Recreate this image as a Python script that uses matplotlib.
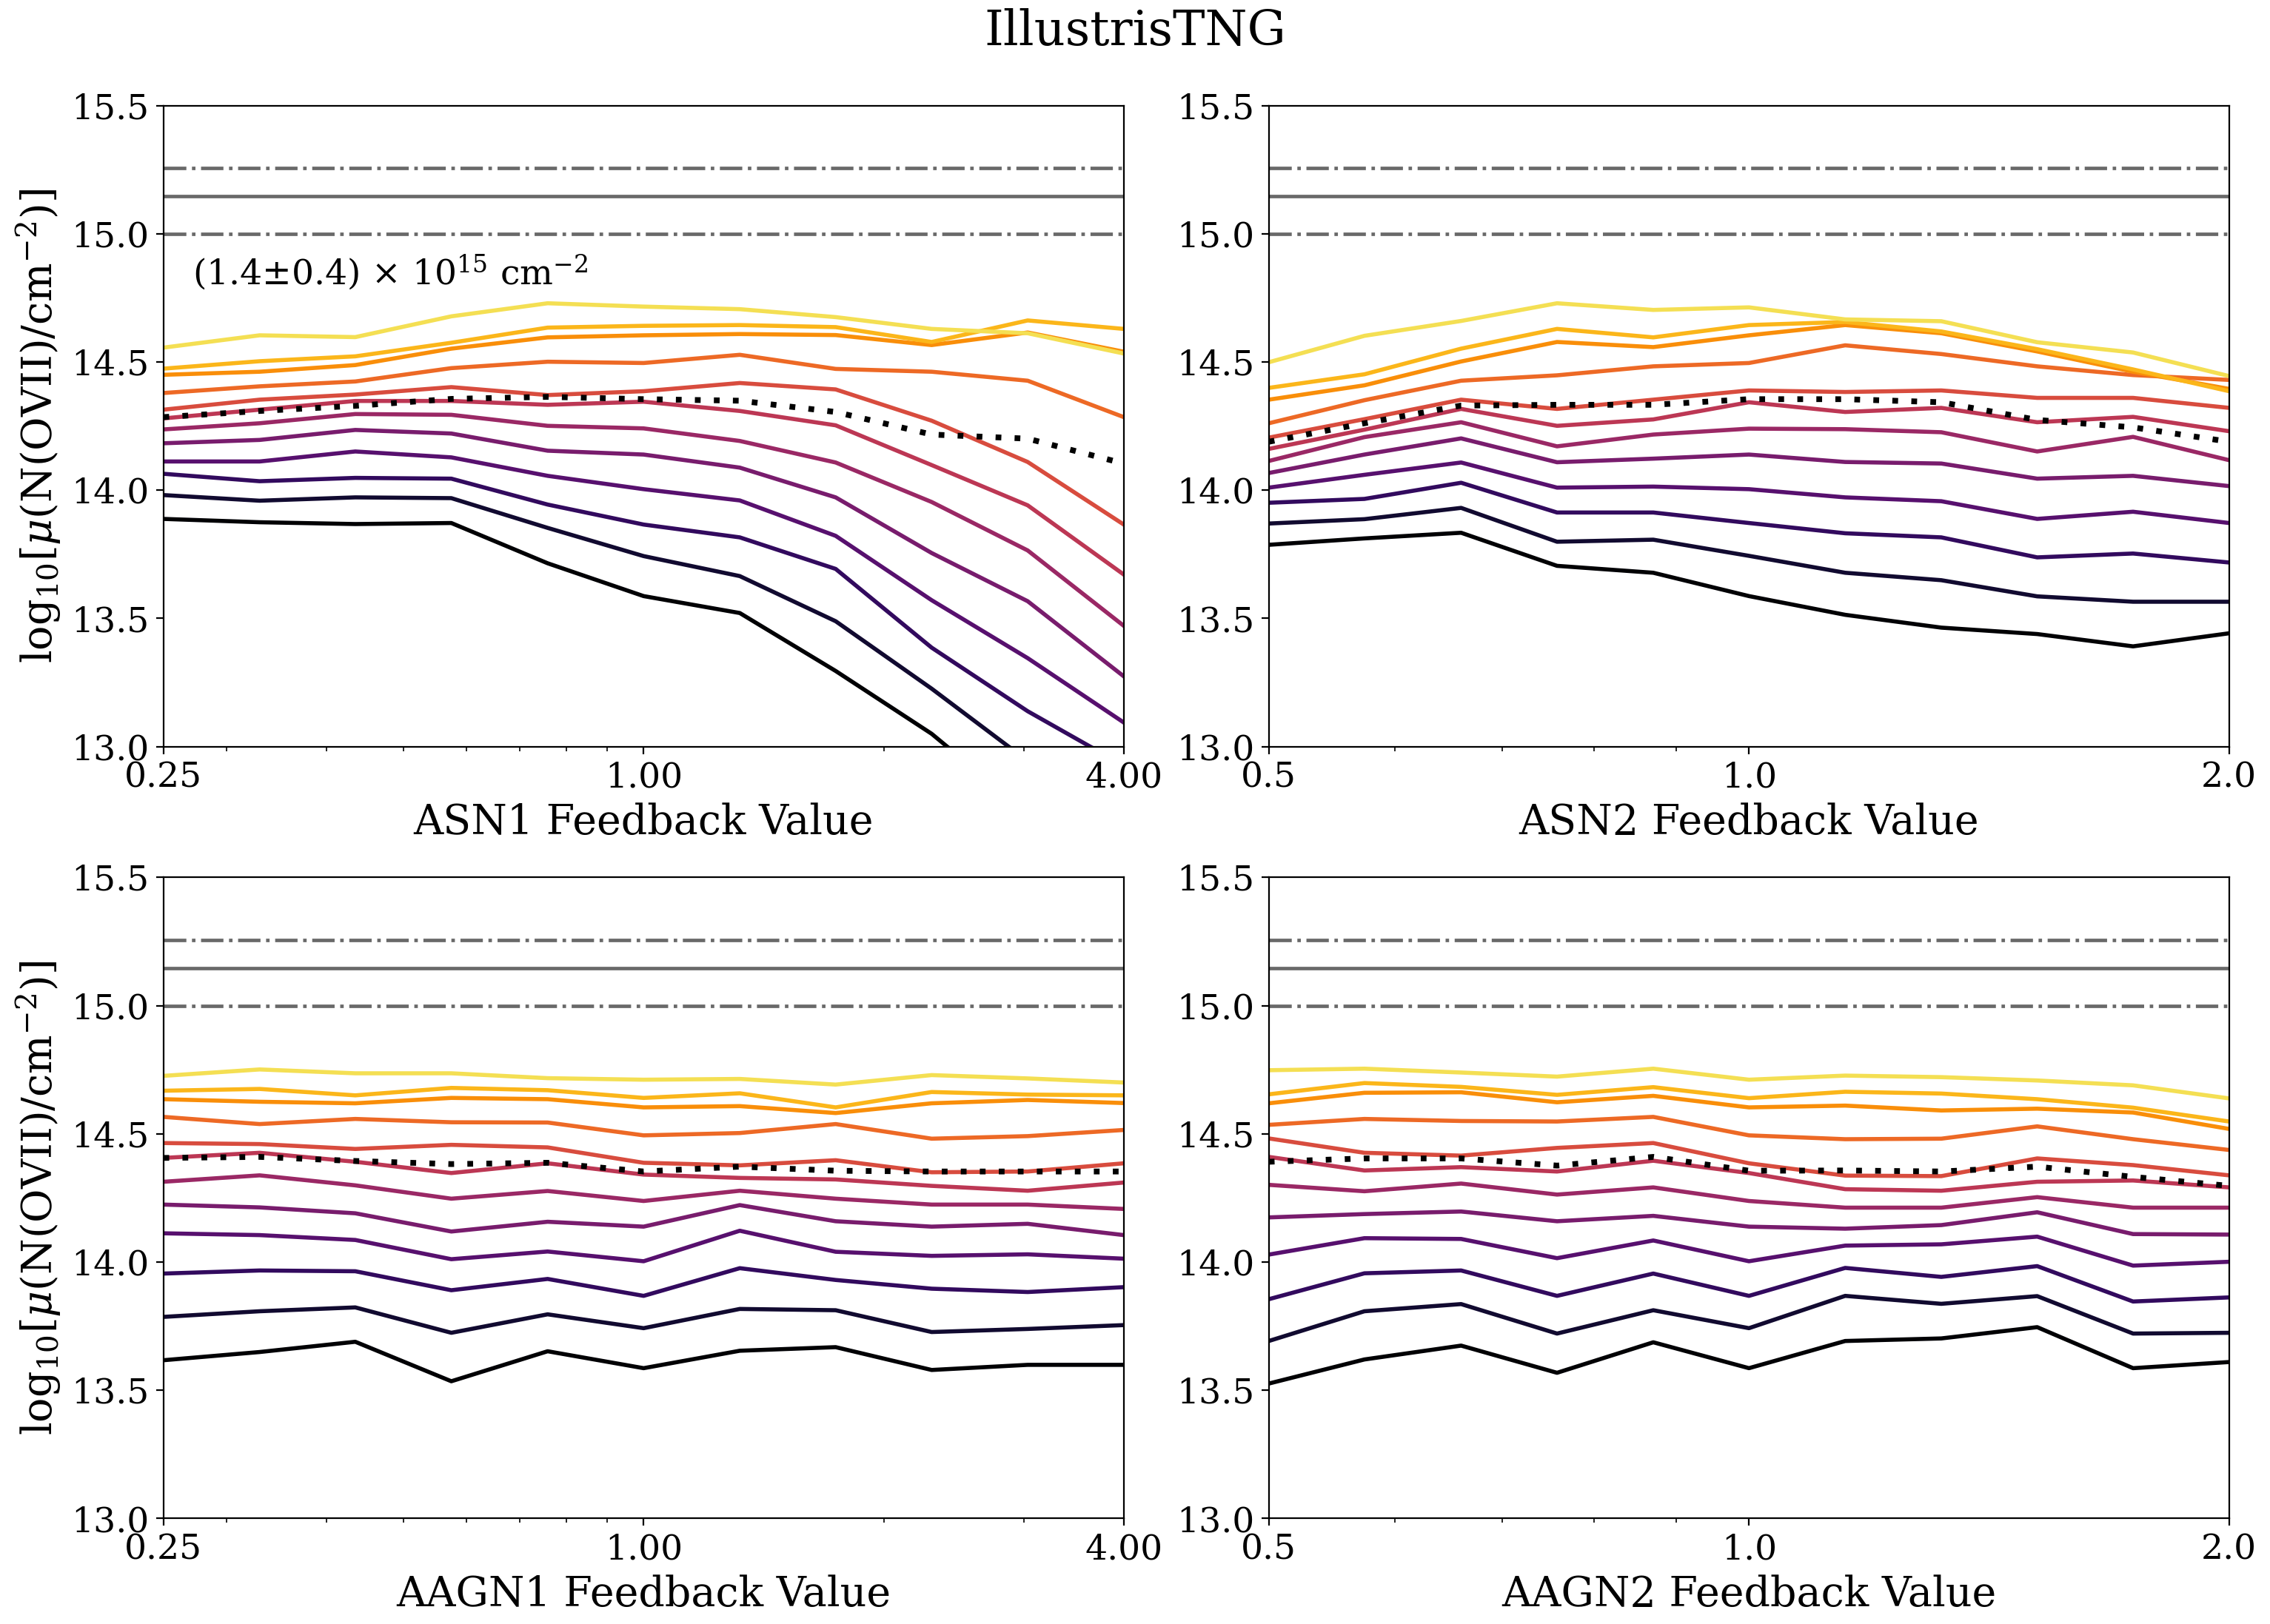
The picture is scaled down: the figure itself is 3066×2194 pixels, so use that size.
import numpy as np
import matplotlib
matplotlib.use('Agg')
import matplotlib.pyplot as plt
from matplotlib.ticker import NullFormatter

plt.rcParams['font.family'] = ['DejaVu Serif']
plt.rcParams['mathtext.fontset'] = 'dejavuserif'

# feedback parameter grids
x_sn1 = [0.25, 0.330, 0.435, 0.574, 0.758, 1.0, 1.320, 1.741, 2.297, 3.031, 4.0]
x_sn2 = [0.5, 0.574, 0.660, 0.758, 0.871, 1.0, 1.149, 1.320, 1.516, 1.741, 2.0]

# percentile curves, lowest (black) to highest (yellow)
asn1 = [
    [13.888, 13.875, 13.868, 13.872, 13.715, 13.587, 13.521, 13.295, 13.050, 12.740, 12.450],
    [13.981, 13.959, 13.972, 13.969, 13.853, 13.743, 13.665, 13.489, 13.226, 12.944, 12.650],
    [14.064, 14.035, 14.048, 14.045, 13.944, 13.866, 13.816, 13.693, 13.386, 13.138, 12.926],
    [14.112, 14.112, 14.151, 14.128, 14.056, 14.004, 13.960, 13.822, 13.571, 13.345, 13.094],
    [14.183, 14.196, 14.235, 14.221, 14.154, 14.139, 14.088, 13.972, 13.755, 13.567, 13.274],
    [14.237, 14.261, 14.297, 14.294, 14.251, 14.241, 14.192, 14.108, 13.954, 13.765, 13.471],
    [14.280, 14.314, 14.348, 14.348, 14.333, 14.345, 14.309, 14.253, 14.098, 13.941, 13.671],
    [14.314, 14.353, 14.373, 14.402, 14.371, 14.386, 14.418, 14.393, 14.271, 14.110, 13.866],
    [14.379, 14.405, 14.424, 14.476, 14.501, 14.496, 14.528, 14.473, 14.462, 14.427, 14.285],
    [14.450, 14.462, 14.488, 14.552, 14.596, 14.604, 14.609, 14.605, 14.566, 14.615, 14.540],
    [14.474, 14.503, 14.522, 14.575, 14.634, 14.641, 14.644, 14.636, 14.578, 14.662, 14.629],
    [14.556, 14.604, 14.597, 14.678, 14.729, 14.716, 14.706, 14.675, 14.629, 14.612, 14.533],
]
asn1_mean = [14.285, 14.309, 14.329, 14.356, 14.364, 14.355, 14.349, 14.305, 14.217, 14.201, 14.104]

asn2 = [
    [13.787, 13.812, 13.834, 13.705, 13.678, 13.587, 13.514, 13.464, 13.439, 13.391, 13.442],
    [13.870, 13.887, 13.931, 13.799, 13.807, 13.744, 13.678, 13.649, 13.586, 13.565, 13.565],
    [13.951, 13.966, 14.029, 13.913, 13.913, 13.872, 13.832, 13.816, 13.738, 13.753, 13.718],
    [14.010, 14.060, 14.108, 14.010, 14.014, 14.004, 13.972, 13.957, 13.888, 13.916, 13.872],
    [14.067, 14.139, 14.202, 14.109, 14.123, 14.139, 14.110, 14.104, 14.045, 14.056, 14.016],
    [14.114, 14.207, 14.265, 14.171, 14.217, 14.240, 14.238, 14.226, 14.151, 14.208, 14.117],
    [14.161, 14.236, 14.317, 14.251, 14.276, 14.343, 14.305, 14.321, 14.265, 14.286, 14.230],
    [14.205, 14.277, 14.353, 14.317, 14.353, 14.389, 14.383, 14.389, 14.360, 14.360, 14.321],
    [14.261, 14.351, 14.427, 14.448, 14.483, 14.496, 14.565, 14.531, 14.483, 14.449, 14.430],
    [14.353, 14.409, 14.502, 14.578, 14.558, 14.604, 14.644, 14.612, 14.541, 14.462, 14.395],
    [14.399, 14.452, 14.552, 14.629, 14.596, 14.644, 14.656, 14.619, 14.550, 14.471, 14.386],
    [14.499, 14.602, 14.660, 14.729, 14.703, 14.713, 14.666, 14.659, 14.577, 14.537, 14.445],
]
asn2_mean = [14.189, 14.261, 14.330, 14.333, 14.333, 14.355, 14.355, 14.343, 14.274, 14.245, 14.189]

aagn1 = [
    [13.617, 13.649, 13.689, 13.535, 13.652, 13.586, 13.654, 13.668, 13.579, 13.599, 13.599],
    [13.786, 13.808, 13.823, 13.724, 13.796, 13.742, 13.817, 13.812, 13.727, 13.739, 13.754],
    [13.955, 13.967, 13.964, 13.890, 13.934, 13.868, 13.976, 13.930, 13.896, 13.883, 13.902],
    [14.112, 14.105, 14.086, 14.011, 14.041, 14.003, 14.122, 14.040, 14.024, 14.030, 14.013],
    [14.224, 14.213, 14.190, 14.119, 14.157, 14.138, 14.222, 14.159, 14.138, 14.149, 14.105],
    [14.313, 14.338, 14.299, 14.247, 14.277, 14.238, 14.278, 14.247, 14.224, 14.224, 14.207],
    [14.406, 14.426, 14.391, 14.347, 14.385, 14.341, 14.328, 14.322, 14.297, 14.278, 14.310],
    [14.464, 14.460, 14.441, 14.457, 14.447, 14.387, 14.377, 14.397, 14.350, 14.353, 14.385],
    [14.566, 14.538, 14.558, 14.545, 14.544, 14.494, 14.503, 14.538, 14.481, 14.491, 14.515],
    [14.635, 14.625, 14.619, 14.640, 14.635, 14.603, 14.608, 14.581, 14.619, 14.632, 14.620],
    [14.668, 14.675, 14.650, 14.679, 14.670, 14.640, 14.658, 14.603, 14.663, 14.653, 14.650],
    [14.726, 14.751, 14.736, 14.736, 14.717, 14.711, 14.714, 14.692, 14.729, 14.716, 14.700],
]
aagn1_mean = [14.406, 14.410, 14.394, 14.382, 14.387, 14.353, 14.372, 14.356, 14.353, 14.353, 14.353]

aagn2 = [
    [13.526, 13.620, 13.674, 13.568, 13.687, 13.586, 13.692, 13.702, 13.746, 13.586, 13.610],
    [13.692, 13.808, 13.836, 13.721, 13.812, 13.742, 13.868, 13.837, 13.867, 13.721, 13.724],
    [13.855, 13.956, 13.967, 13.868, 13.955, 13.868, 13.977, 13.942, 13.984, 13.846, 13.862],
    [14.029, 14.093, 14.090, 14.015, 14.084, 14.003, 14.064, 14.069, 14.099, 13.986, 14.001],
    [14.174, 14.187, 14.197, 14.159, 14.180, 14.138, 14.130, 14.144, 14.194, 14.109, 14.107],
    [14.301, 14.276, 14.306, 14.263, 14.291, 14.238, 14.212, 14.212, 14.253, 14.212, 14.212],
    [14.410, 14.357, 14.370, 14.353, 14.395, 14.347, 14.284, 14.278, 14.313, 14.318, 14.291],
    [14.482, 14.426, 14.415, 14.445, 14.464, 14.385, 14.337, 14.335, 14.404, 14.378, 14.338],
    [14.535, 14.558, 14.550, 14.548, 14.566, 14.494, 14.479, 14.481, 14.529, 14.479, 14.437],
    [14.619, 14.660, 14.662, 14.623, 14.648, 14.603, 14.610, 14.591, 14.598, 14.583, 14.519],
    [14.654, 14.698, 14.683, 14.652, 14.682, 14.639, 14.664, 14.657, 14.635, 14.602, 14.548],
    [14.748, 14.754, 14.739, 14.723, 14.754, 14.711, 14.727, 14.721, 14.708, 14.689, 14.638],
]
aagn2_mean = [14.391, 14.404, 14.404, 14.376, 14.410, 14.356, 14.357, 14.353, 14.372, 14.332, 14.297]

# observed column density (1.4 +/- 0.4) x 10^15 cm^-2
obs_mid = 1.4e15
obs_lo = 1.0e15
obs_hi = 1.8e15

panels = [
    ('ASN1 Feedback Value', x_sn1, asn1, asn1_mean, [0.25, 1.0, 4.0], ['0.25', '1.00', '4.00']),
    ('ASN2 Feedback Value', x_sn2, asn2, asn2_mean, [0.5, 1.0, 2.0], ['0.5', '1.0', '2.0']),
    ('AAGN1 Feedback Value', x_sn1, aagn1, aagn1_mean, [0.25, 1.0, 4.0], ['0.25', '1.00', '4.00']),
    ('AAGN2 Feedback Value', x_sn2, aagn2, aagn2_mean, [0.5, 1.0, 2.0], ['0.5', '1.0', '2.0']),
]

fig, axes = plt.subplots(2, 2, figsize=(15.33, 10.97), dpi=200)
fig.subplots_adjust(left=0.072, right=0.982, bottom=0.065, top=0.935, wspace=0.151, hspace=0.204)

n = 12
for i, (ax, (xlabel, x, curves, mean, ticks, labels)) in enumerate(zip(axes.flat, panels)):
    ax.axhline(np.log10(obs_hi), color='dimgray', ls='-.', lw=1.7)
    ax.axhline(np.log10(obs_mid), color='dimgray', ls='-', lw=1.7)
    ax.axhline(np.log10(obs_lo), color='dimgray', ls='-.', lw=1.7)
    for j, y in enumerate(curves):
        ax.plot(x, y, color=plt.cm.inferno(j / n), lw=2.0)
    ax.plot(x, mean, color='black', ls=(0, (1, 2.3)), lw=2.8)

    ax.set_xscale('log')
    ax.set_xlim(x[0], x[-1])
    ax.set_ylim(13.0, 15.5)
    ax.set_xticks(ticks)
    ax.set_xticklabels(labels)
    ax.xaxis.set_minor_formatter(NullFormatter())
    ax.set_yticks([13.0, 13.5, 14.0, 14.5, 15.0, 15.5])
    ax.tick_params(labelsize=17)
    ax.set_xlabel(xlabel, fontsize=20)
    if i % 2 == 0:
        ax.set_ylabel(r'log$_{10}$[$\mu$(N(OVII)/cm$^{-2}$)]', fontsize=20)

axes[0, 0].text(0.03, 0.74, r'(1.4$\pm$0.4) $\times$ 10$^{15}$ cm$^{-2}$',
                transform=axes[0, 0].transAxes, fontsize=17, va='center')

fig.suptitle('IllustrisTNG', fontsize=23.5, y=0.995)

plt.savefig('out.png', dpi=200)
